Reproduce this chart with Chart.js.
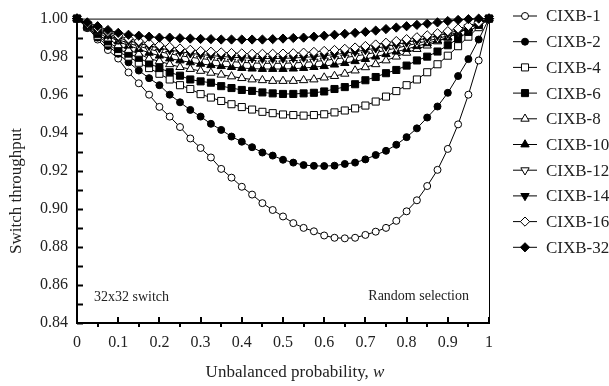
<!DOCTYPE html>
<html>
<head>
<meta charset="utf-8">
<script src="https://cdn.jsdelivr.net/npm/chart.js@4"></script>
<style>
  html, body { margin: 0; padding: 0; background: #fff; }
  canvas { display: block; }
</style>
</head>
<body>
<canvas id="chart" width="609" height="386"></canvas>
<script>
// unbalanced probability w (x axis)
const wValues = [0, 0.025, 0.05, 0.075, 0.1, 0.125, 0.15, 0.175, 0.2, 0.225,
  0.25, 0.275, 0.3, 0.325, 0.35, 0.375, 0.4, 0.425, 0.45, 0.475,
  0.5, 0.525, 0.55, 0.575, 0.6, 0.625, 0.65, 0.675, 0.7, 0.725,
  0.75, 0.775, 0.8, 0.825, 0.85, 0.875, 0.9, 0.925, 0.95, 0.975, 1];

const cixb1 = [1.000, 0.9955, 0.989, 0.9835, 0.979, 0.9717, 0.966, 0.960, 0.9536, 0.9485,
  0.943, 0.937, 0.932, 0.927, 0.921, 0.9164, 0.9116, 0.9075, 0.903, 0.8994,
  0.896, 0.8925, 0.890, 0.8882, 0.886, 0.8848, 0.8845, 0.8848, 0.8863, 0.888,
  0.890, 0.8937, 0.8987, 0.9045, 0.912, 0.9205, 0.9315, 0.9444, 0.960, 0.978, 1.000];

const cixb2 = [1.000, 0.995, 0.990, 0.9856, 0.9815, 0.977, 0.9727, 0.9687, 0.965, 0.960,
  0.956, 0.952, 0.9485, 0.9447, 0.9415, 0.938, 0.9353, 0.9324, 0.9296, 0.928,
  0.9258, 0.9243, 0.923, 0.9226, 0.9225, 0.9227, 0.9236, 0.9243, 0.926, 0.9283,
  0.9305, 0.9337, 0.9377, 0.9423, 0.948, 0.9538, 0.961, 0.9698, 0.9787, 0.989, 1.000];

const cixb4 = [1.000, 0.9955, 0.991, 0.987, 0.9825, 0.980, 0.9768, 0.974, 0.971, 0.968,
  0.965, 0.963, 0.9603, 0.9585, 0.9567, 0.955, 0.9535, 0.9522, 0.951, 0.9503,
  0.9496, 0.9493, 0.949, 0.9493, 0.9497, 0.9507, 0.9517, 0.9528, 0.9543, 0.9564,
  0.959, 0.9619, 0.965, 0.968, 0.9718, 0.976, 0.9805, 0.9855, 0.9905, 0.9955, 1.000];

const cixb6 = [1.000, 0.996, 0.992, 0.988, 0.984, 0.9816, 0.9794, 0.9765, 0.974, 0.9718,
  0.970, 0.968, 0.967, 0.9663, 0.9645, 0.9635, 0.9625, 0.962, 0.9612, 0.9607,
  0.9604, 0.9604, 0.9607, 0.961, 0.9617, 0.963, 0.964, 0.9655, 0.9676, 0.9693,
  0.9713, 0.973, 0.9753, 0.978, 0.980, 0.9827, 0.986, 0.9895, 0.993, 0.9967, 1.000];

const cixb8 = [1.000, 0.996, 0.993, 0.9895, 0.986, 0.9835, 0.9815, 0.979, 0.9776, 0.976,
  0.9745, 0.9735, 0.9725, 0.9715, 0.9705, 0.9696, 0.9687, 0.968, 0.9676, 0.9672,
  0.9672, 0.9672, 0.9676, 0.968, 0.969, 0.9698, 0.971, 0.9727, 0.9744, 0.976,
  0.978, 0.980, 0.982, 0.984, 0.9858, 0.988, 0.990, 0.9925, 0.9948, 0.9974, 1.000];

const cixb10 = [1.000, 0.9965, 0.9935, 0.991, 0.988, 0.9858, 0.984, 0.982, 0.9805, 0.979,
  0.978, 0.977, 0.9762, 0.9755, 0.975, 0.9745, 0.974, 0.9737, 0.9735, 0.9735,
  0.9735, 0.9737, 0.974, 0.9745, 0.975, 0.9758, 0.9766, 0.9776, 0.9787, 0.980,
  0.9813, 0.9826, 0.984, 0.9855, 0.987, 0.9885, 0.990, 0.9925, 0.995, 0.9975, 1.000];

const cixb12 = [1.000, 0.9968, 0.994, 0.9915, 0.989, 0.987, 0.9855, 0.984, 0.9826, 0.9815,
  0.9805, 0.9797, 0.979, 0.9784, 0.9778, 0.9774, 0.977, 0.9767, 0.9765, 0.9765,
  0.9765, 0.9767, 0.977, 0.9774, 0.978, 0.9787, 0.9795, 0.9803, 0.9812, 0.9822,
  0.9833, 0.9845, 0.9857, 0.987, 0.9882, 0.9895, 0.991, 0.993, 0.995, 0.9975, 1.000];

const cixb14 = [1.000, 0.997, 0.9945, 0.9922, 0.990, 0.9883, 0.987, 0.9857, 0.9845, 0.9835,
  0.9826, 0.9818, 0.9811, 0.9806, 0.9801, 0.9797, 0.9794, 0.9792, 0.979, 0.979,
  0.9791, 0.9793, 0.9796, 0.980, 0.9805, 0.9811, 0.9818, 0.9826, 0.9835, 0.9844,
  0.9854, 0.9864, 0.9875, 0.9886, 0.9897, 0.991, 0.9922, 0.9937, 0.9955, 0.9977, 1.000];

const cixb16 = [1.000, 0.9973, 0.995, 0.993, 0.991, 0.9895, 0.9882, 0.987, 0.986, 0.9851,
  0.9843, 0.9836, 0.983, 0.9826, 0.9822, 0.9819, 0.9817, 0.9815, 0.9815, 0.9815,
  0.9816, 0.9818, 0.9821, 0.9825, 0.983, 0.9835, 0.9841, 0.9848, 0.9856, 0.9864,
  0.9873, 0.9882, 0.9892, 0.9902, 0.9912, 0.9923, 0.9934, 0.9947, 0.9962, 0.998, 1.000];

const cixb32 = [1.000, 0.998, 0.996, 0.994, 0.9925, 0.9915, 0.991, 0.9905, 0.990, 0.990,
  0.9897, 0.9895, 0.9893, 0.9892, 0.989, 0.989, 0.989, 0.989, 0.989, 0.9892,
  0.9895, 0.9898, 0.990, 0.9905, 0.991, 0.9915, 0.992, 0.9925, 0.993, 0.9937,
  0.9945, 0.9953, 0.996, 0.9967, 0.9973, 0.998, 0.9987, 0.9993, 0.9997, 1.000, 1.000];

const seriesNames = ['CIXB-1', 'CIXB-2', 'CIXB-4', 'CIXB-6', 'CIXB-8',
  'CIXB-10', 'CIXB-12', 'CIXB-14', 'CIXB-16', 'CIXB-32'];
const seriesValues = [cixb1, cixb2, cixb4, cixb6, cixb8, cixb10, cixb12, cixb14, cixb16, cixb32];

// marker look per series: [pointStyle, radius, rotation, filled]
const markers = [
  ['circle', 3.5, 0, false], ['circle', 3.5, 0, true],
  ['rect', 5, 0, false], ['rect', 5, 0, true],
  ['triangle', 4.8, 0, false], ['triangle', 4.8, 0, true],
  ['triangle', 4.8, 180, false], ['triangle', 4.8, 180, true],
  ['rectRot', 4.6, 0, false], ['rectRot', 4.6, 0, true]
];

const SERIF = "'Liberation Serif', 'Times New Roman', serif";

const datasets = seriesNames.map((name, i) => {
  const [style, r, rot, filled] = markers[i];
  return {
    label: name,
    data: wValues.map((w, k) => ({ x: w, y: seriesValues[i][k] })),
    borderColor: '#000',
    borderWidth: 1,
    pointStyle: style,
    pointRadius: r,
    pointRotation: rot,
    pointBackgroundColor: filled ? '#000' : '#fff',
    pointBorderColor: '#000',
    pointBorderWidth: 1,
    tension: 0,
    clip: false,
    order: seriesNames.length - i
  };
});

const decorations = {
  id: 'decorations',
  beforeDatasetsDraw(chart) {
    const { ctx, chartArea: a, scales: { x, y } } = chart;
    ctx.save();
    ctx.strokeStyle = '#000';
    // thin top/right frame
    ctx.lineWidth = 1;
    ctx.beginPath();
    ctx.moveTo(a.left, a.top + 0.5);
    ctx.lineTo(a.right + 0.5, a.top + 0.5);
    ctx.lineTo(a.right + 0.5, a.bottom);
    ctx.stroke();
    // heavy left/bottom axes
    ctx.lineWidth = 2;
    ctx.beginPath();
    ctx.moveTo(a.left, a.top);
    ctx.lineTo(a.left, a.bottom);
    ctx.lineTo(a.right + 1, a.bottom);
    ctx.stroke();
    // y ticks every 0.01, pointing inward
    for (let k = 0; k <= 16; k++) {
      const py = Math.round(y.getPixelForValue(0.84 + k * 0.01)) + 0.5;
      ctx.beginPath();
      ctx.moveTo(a.left, py);
      ctx.lineTo(a.left + 6, py);
      ctx.stroke();
    }
    // x ticks: majors inward, minors outward
    for (let k = 0; k <= 20; k++) {
      const px = Math.round(x.getPixelForValue(k * 0.05));
      ctx.beginPath();
      if (k % 2 === 0) {
        ctx.moveTo(px, a.bottom);
        ctx.lineTo(px, a.bottom - 6);
      } else {
        ctx.moveTo(px, a.bottom - 1);
        ctx.lineTo(px, a.bottom + 4);
      }
      ctx.stroke();
    }
    ctx.restore();
  },
  afterDraw(chart) {
    const { ctx } = chart;
    ctx.save();
    ctx.fillStyle = '#222';

    // axis titles
    ctx.font = `17px ${SERIF}`;
    ctx.textBaseline = 'middle';
    ctx.save();
    ctx.translate(17, 191);
    ctx.rotate(-Math.PI / 2);
    ctx.textAlign = 'center';
    ctx.fillText('Switch throughput', 0, 0);
    ctx.restore();

    const plain = 'Unbalanced probability, ';
    ctx.font = `17px ${SERIF}`;
    const w1 = ctx.measureText(plain).width;
    ctx.font = `italic 17px ${SERIF}`;
    const w2 = ctx.measureText('w').width;
    const sx = 295 - (w1 + w2) / 2;
    ctx.textAlign = 'left';
    ctx.font = `17px ${SERIF}`;
    ctx.fillText(plain, sx, 373);
    ctx.font = `italic 17px ${SERIF}`;
    ctx.fillText('w', sx + w1, 373);

    // in-plot notes
    ctx.font = `14px ${SERIF}`;
    ctx.textAlign = 'left';
    ctx.fillText('32x32 switch', 94, 297);
    ctx.textAlign = 'right';
    ctx.fillText('Random selection', 469, 296);

    // legend
    chart.data.datasets.forEach((ds, i) => {
      const ly = 16 + i * 25.7;
      ctx.strokeStyle = '#000';
      ctx.lineWidth = 1;
      ctx.beginPath();
      ctx.moveTo(513, ly);
      ctx.lineTo(537, ly);
      ctx.stroke();
      ctx.fillStyle = ds.pointBackgroundColor;
      Chart.helpers.drawPoint(ctx, {
        pointStyle: ds.pointStyle,
        radius: ds.pointRadius,
        rotation: ds.pointRotation,
        borderWidth: 1
      }, 525, ly);
      ctx.fillStyle = '#222';
      ctx.font = `17px ${SERIF}`;
      ctx.textAlign = 'left';
      ctx.textBaseline = 'middle';
      ctx.fillText(ds.label, 546, ly + 1);
    });
    ctx.restore();
  }
};

new Chart(document.getElementById('chart'), {
  type: 'line',
  data: { datasets },
  plugins: [decorations],
  options: {
    responsive: false,
    animation: false,
    layout: { padding: { top: 12, right: 120, left: 0, bottom: 0 } },
    plugins: { legend: { display: false }, tooltip: { enabled: false } },
    scales: {
      x: {
        type: 'linear',
        min: 0,
        max: 1,
        afterFit: s => { s.height = 63; },
        grid: { display: false, drawTicks: false },
        border: { display: false },
        ticks: {
          stepSize: 0.1,
          padding: 10,
          color: '#222',
          font: { family: SERIF, size: 16 },
          callback: v => (v === 0 ? '0' : v === 1 ? '1' : Number(v).toFixed(1))
        }
      },
      y: {
        min: 0.84,
        max: 1.0,
        afterFit: s => { s.width = 77; },
        grid: { display: false, drawTicks: false },
        border: { display: false },
        ticks: {
          stepSize: 0.02,
          padding: 9,
          color: '#222',
          font: { family: SERIF, size: 16 },
          callback: v => Number(v).toFixed(2)
        }
      }
    }
  }
});
</script>
</body>
</html>
